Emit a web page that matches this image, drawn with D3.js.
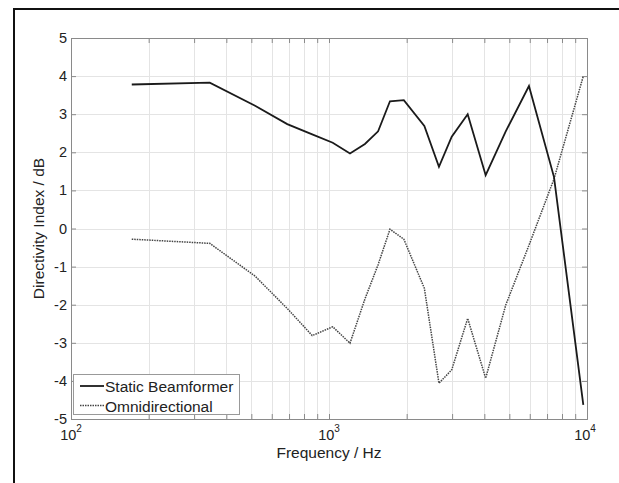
<!DOCTYPE html>
<html>
<head>
<meta charset="utf-8">
<script src="https://cdn.jsdelivr.net/npm/d3@7"></script>
<style>
  body { margin: 0; background: #fff; }
  text { font-family: "Liberation Sans", Arial, sans-serif; fill: #222; }
</style>
</head>
<body>
<div id="chart"></div>
<script>
const w = 619;
const h = 483;

// data
const freqs = [172, 345, 517, 689, 861, 1034, 1206, 1378, 1550, 1723, 1950, 2342, 2668, 2990, 3448, 4048, 4842, 5957, 7449, 9676];
const staticBF = [3.78, 3.83, 3.22, 2.74, 2.47, 2.25, 1.97, 2.22, 2.55, 3.34, 3.37, 2.69, 1.62, 2.41, 3.0, 1.40, 2.55, 3.74, 1.35, -4.63];
const omni = [-0.28, -0.39, -1.25, -2.1, -2.81, -2.58, -3.01, -1.85, -0.95, -0.02, -0.28, -1.57, -4.06, -3.71, -2.36, -3.93, -2.01, -0.44, 1.3, 4.0];
const seriesNames = ['Static Beamformer', 'Omnidirectional'];
const yTicks = [-5, -4, -3, -2, -1, 0, 1, 2, 3, 4, 5];
const xMajor = [100, 1000, 10000];
const xExp = ['2', '3', '4'];

const pLeft = 71, pRight = 587, pTop = 38, pBottom = 419;

const x = d3.scaleLog().domain([100, 10000]).range([pLeft, pRight]);
const y = d3.scaleLinear().domain([-5, 5]).range([pBottom, pTop]);

const xMinor = [];
[100, 1000].forEach(dec => { for (let k = 2; k <= 9; k++) xMinor.push(dec * k); });

const svg = d3.select('#chart')
  .append('svg')
  .attr('width', w)
  .attr('height', h);

svg.append('rect').attr('width', w).attr('height', h).attr('fill', '#fff');

// outer frame
svg.append('path')
  .attr('d', 'M14,' + h + 'V9H' + w)
  .attr('fill', 'none')
  .attr('stroke', '#111')
  .attr('stroke-width', 2);

// grid
const grid = svg.append('g').attr('class', 'grid');
grid.selectAll('line.gx')
  .data(xMinor.concat(xMajor))
  .enter().append('line')
  .attr('x1', d => Math.round(x(d)) + 0.5)
  .attr('x2', d => Math.round(x(d)) + 0.5)
  .attr('y1', pTop).attr('y2', pBottom)
  .attr('stroke', '#e4e4e4');
grid.selectAll('line.gy')
  .data(yTicks)
  .enter().append('line')
  .attr('y1', d => Math.round(y(d)) + 0.5)
  .attr('y2', d => Math.round(y(d)) + 0.5)
  .attr('x1', pLeft).attr('x2', pRight)
  .attr('stroke', '#e4e4e4');

// axes (ticks inward)
const xAxisB = d3.axisBottom(x).tickValues(xMajor.concat(xMinor)).tickSize(-5).tickFormat('');
const xAxisT = d3.axisTop(x).tickValues(xMajor.concat(xMinor)).tickSize(-5).tickFormat('');
const yAxisL = d3.axisLeft(y).tickValues(yTicks).tickSize(-5).tickFormat('');
const yAxisR = d3.axisRight(y).tickValues(yTicks).tickSize(-5).tickFormat('');

[[xAxisB, 'translate(0,' + pBottom + ')'], [xAxisT, 'translate(0,' + pTop + ')'],
 [yAxisL, 'translate(' + pLeft + ',0)'], [yAxisR, 'translate(' + pRight + ',0)']].forEach(a => {
  const g = svg.append('g').attr('transform', a[1]).call(a[0]);
  g.selectAll('path, line').attr('stroke', '#8a8a8a');
});

// y tick labels
svg.selectAll('text.ytick')
  .data(yTicks)
  .enter().append('text')
  .attr('x', pLeft - 4)
  .attr('y', d => y(d) + 5)
  .attr('text-anchor', 'end')
  .attr('font-size', 14.5)
  .text(d => d);

// x tick labels with exponent
const xl = svg.selectAll('text.xtick')
  .data(xMajor)
  .enter().append('text')
  .attr('x', (d, i) => x(d) + (i === 2 ? -2 : 0))
  .attr('y', 440)
  .attr('text-anchor', 'middle')
  .attr('font-size', 14.5);
xl.append('tspan').text('10');
xl.append('tspan').attr('dy', -8).attr('font-size', 10).text((d, i) => xExp[i]);

// axis titles
svg.append('text')
  .attr('x', (pLeft + pRight) / 2)
  .attr('y', 458)
  .attr('text-anchor', 'middle')
  .attr('font-size', 15.5)
  .text('Frequency / Hz');

svg.append('text')
  .attr('transform', 'translate(44,' + y(0) + ') rotate(-90)')
  .attr('text-anchor', 'middle')
  .attr('font-size', 15.5)
  .text('Directivity Index / dB');

// lines
const line = d3.line()
  .x(d => x(d[0]))
  .y(d => y(d[1]));

svg.append('path')
  .datum(freqs.map((f, i) => [f, omni[i]]))
  .attr('d', line)
  .attr('fill', 'none')
  .attr('stroke', '#444')
  .attr('stroke-width', 1.5)
  .attr('stroke-dasharray', '1.5,1');

svg.append('path')
  .datum(freqs.map((f, i) => [f, staticBF[i]]))
  .attr('d', line)
  .attr('fill', 'none')
  .attr('stroke', '#1a1a1a')
  .attr('stroke-width', 1.8);

// legend
const lg = svg.append('g');
lg.append('rect')
  .attr('x', 73.5).attr('y', 374.5)
  .attr('width', 166).attr('height', 40)
  .attr('fill', '#fff')
  .attr('stroke', '#999');

const styles = [
  { stroke: '#1a1a1a', width: 1.8, dash: null },
  { stroke: '#444', width: 1.5, dash: '1.5,1' }
];
seriesNames.forEach((name, i) => {
  const cy = 386 + i * 19.5;
  lg.append('line')
    .attr('x1', 80).attr('x2', 104)
    .attr('y1', cy).attr('y2', cy)
    .attr('stroke', styles[i].stroke)
    .attr('stroke-width', styles[i].width)
    .attr('stroke-dasharray', styles[i].dash);
  lg.append('text')
    .attr('x', 105)
    .attr('y', cy + 6)
    .attr('font-size', 15.5)
    .text(name);
});
</script>
</body>
</html>
